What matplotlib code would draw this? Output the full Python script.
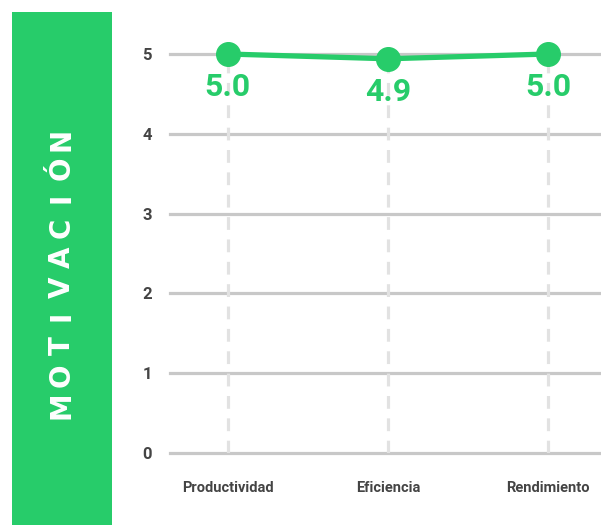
import matplotlib
matplotlib.use("Agg")
import matplotlib.pyplot as plt
from matplotlib.patches import Rectangle

# values per category
categorias = ["Productividad", "Eficiencia", "Rendimiento"]
valores = [5.0, 4.94, 5.0]
yticks = [0, 1, 2, 3, 4, 5]
titulo = "MOTIVACIÓN"

verde = "#27cc6a"
gris_grid = "#c8c8c8"
gris_dash = "#e2e2e2"
gris_texto = "#444444"

plt.rcParams["font.family"] = ["Roboto", "DejaVu Sans"]

fig = plt.figure(figsize=(6.01, 5.25), dpi=100)
W, H = 601.0, 525.0

# green side band with the vertical title (read bottom to top)
fig.patches.append(Rectangle((12 / W, 0), 100 / W, 513 / H, transform=fig.transFigure,
                             facecolor=verde, edgecolor="none", zorder=0))
n = len(titulo)
y_top, y_bot = 1 - 139 / H, 1 - 405 / H
for i, letra in enumerate(titulo):
    y = y_bot + (y_top - y_bot) * i / (n - 1)
    fig.text(62 / W, y, letra, rotation=90, ha="center", va="center", color="white",
             fontsize=20, fontweight="bold", family=["DejaVu Sans"])

ax = fig.add_axes([170 / W, 72 / H, (W - 170) / W, 399 / H])
x = list(range(len(categorias)))

ax.set_ylim(0, 5)
ax.set_xlim(-0.36, 2.33)
ax.set_yticks(yticks)
ax.set_xticks(x)
ax.set_xticklabels(categorias)
for s in ax.spines.values():
    s.set_visible(False)
ax.tick_params(length=0)
ax.tick_params(axis="y", pad=13, labelsize=12, labelcolor=gris_texto)
ax.tick_params(axis="x", pad=20, labelsize=10.5, labelcolor=gris_texto)
for lbl in ax.get_xticklabels() + ax.get_yticklabels():
    lbl.set_fontweight("bold")

for t in yticks:
    ax.axhline(t, color=gris_grid, lw=2.3, zorder=1, clip_on=False)

ax.vlines(x, 0, 5, colors=gris_dash, lw=2.3, linestyles=(0, (4, 3)), zorder=2)

ax.plot(x, valores, color=verde, lw=3.8, marker="o", markersize=17,
        zorder=4, clip_on=False, solid_capstyle="round")

for xi, v in zip(x, valores):
    ax.annotate(f"{v:.1f}", (xi, v), xytext=(0, -24), textcoords="offset points",
                ha="center", va="center", color=verde, fontsize=23, fontweight="bold", zorder=5)

fig.savefig("out.png", dpi=100)
